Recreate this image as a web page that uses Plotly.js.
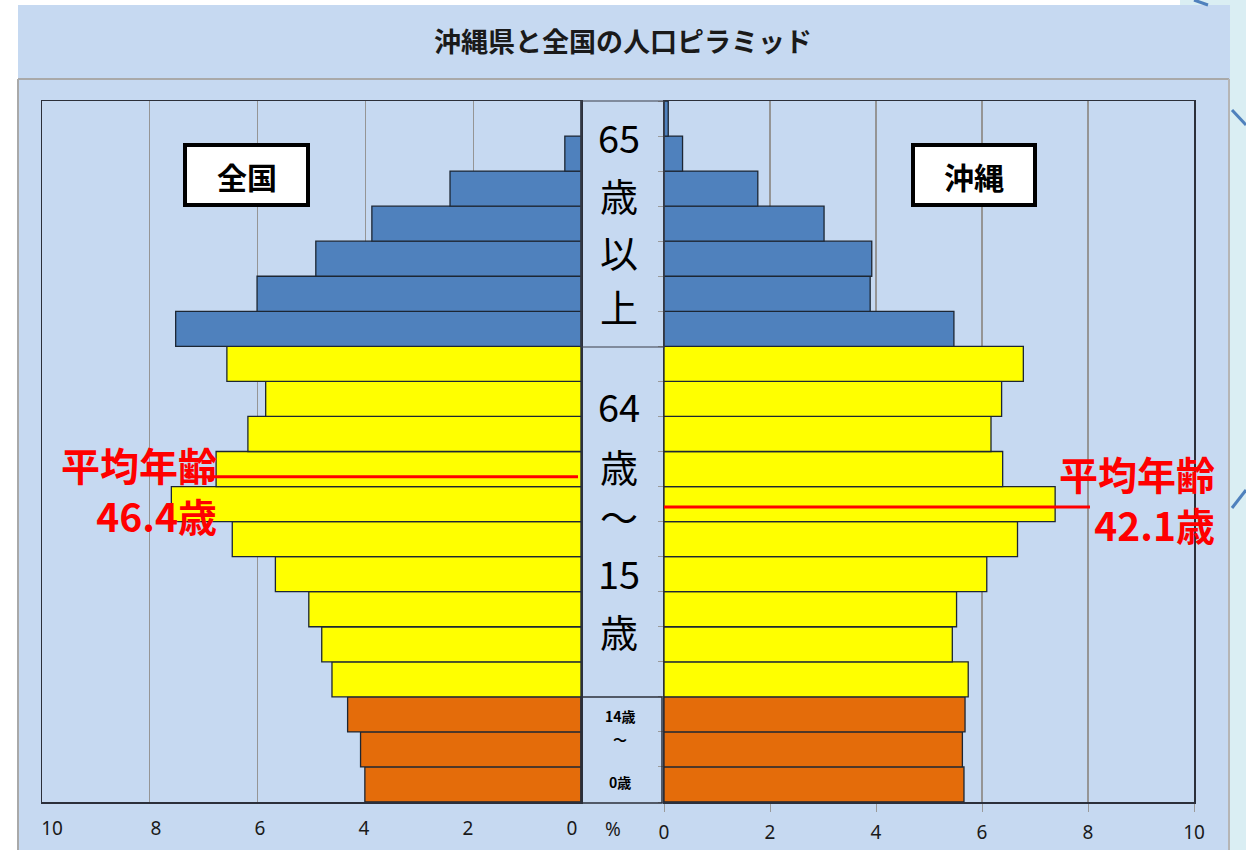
<!DOCTYPE html>
<html>
<head>
<meta charset="utf-8">
<script src="https://cdn.plot.ly/plotly-3.0.1.min.js"></script>
<style>
  html, body { margin: 0; padding: 0; background: #ffffff; }
  #chart { width: 1246px; height: 850px; }
</style>
</head>
<body>
<div id="chart"></div>
<script>
// ---- data (bottom to top: 0-4 ... 95+) ----
const ageGroups = ['0-4','5-9','10-14','15-19','20-24','25-29','30-34','35-39','40-44','45-49',
                   '50-54','55-59','60-64','65-69','70-74','75-79','80-84','85-89','90-94','95+'];
const japanPct   = [4.01, 4.09, 4.33, 4.62, 4.81, 5.05, 5.67, 6.47, 7.60, 6.77,
                    6.18, 5.85, 6.57, 7.52, 6.01, 4.92, 3.88, 2.43, 0.30, 0.00];
const okinawaPct = [5.66, 5.63, 5.68, 5.74, 5.44, 5.52, 6.09, 6.67, 7.38, 6.39,
                    6.17, 6.37, 6.78, 5.47, 3.89, 3.92, 3.02, 1.77, 0.35, 0.08];
const japanAvgAge = 46.4;
const okinawaAvgAge = 42.1;
const xTicks = [0, 2, 4, 6, 8, 10];
const titleText = '沖縄県と全国の人口ピラミッド';
const leftName = '全国';
const rightName = '沖縄';
const avgLabel = '平均年齢';

// ---- styling helpers ----
const W = 1246, H = 850;
const px = x => x / W;
const py = y => 1 - y / H;
const groupColor = i => (i <= 2 ? '#e46c0a' : (i <= 12 ? '#ffff00' : '#4f81bd'));
const colors = ageGroups.map((_, i) => groupColor(i));
const ageToY = a => a / 5 - 0.5;   // category-index position of an age
const JP = '"Noto Sans CJK JP", "Noto Sans", sans-serif';
const NUM = '"Noto Sans", sans-serif';
const bg = '#c6d9f1';

const barCommon = {
  type: 'bar', orientation: 'h', y: ageGroups, width: 1,
  marker: { color: colors, line: { color: '#1c2633', width: 1.3 } },
  hoverinfo: 'skip', showlegend: false
};
const traces = [
  Object.assign({}, barCommon, { x: japanPct, xaxis: 'x', yaxis: 'y', name: leftName }),
  Object.assign({}, barCommon, { x: okinawaPct, xaxis: 'x2', yaxis: 'y2', name: rightName }),
  // empty carrier so the left tick-label axis is drawn
  { type: 'scatter', x: [], y: [], xaxis: 'x3', yaxis: 'y', showlegend: false, hoverinfo: 'skip' }
];

const yDom = [py(802), py(101)];
const tickFont = { family: NUM, size: 19, color: '#1a1a1a' };
const axisX = {
  tickvals: xTicks, ticktext: xTicks.map(String),
  showgrid: true, gridcolor: '#959595', gridwidth: 1.2,
  zeroline: false, showline: true, mirror: true, linecolor: '#2b2f3a', linewidth: 1.5,
  tickfont: tickFont, ticklabelstandoff: 13, fixedrange: true
};
const axisY = {
  type: 'category', categoryorder: 'array', categoryarray: ageGroups,
  range: [-0.5, ageGroups.length - 0.5], domain: yDom,
  showticklabels: false, showgrid: false, zeroline: false,
  showline: true, mirror: true, linecolor: '#2b2f3a', linewidth: 1.5, fixedrange: true
};

const layout = {
  width: W, height: H,
  margin: { l: 0, r: 0, t: 0, b: 0 },
  paper_bgcolor: bg, plot_bgcolor: 'rgba(0,0,0,0)',
  barmode: 'overlay', bargap: 0,
  title: { text: titleText, x: 0.5, xanchor: 'center', y: py(43), yanchor: 'middle',
           xref: 'paper', yref: 'paper',
           font: { family: JP, size: 27, color: '#1a1a1a', weight: 700 } },
  xaxis: Object.assign({}, axisX, { domain: [px(42), px(581)], range: [10, 0], anchor: 'y',
           ticks: '', showticklabels: false }),
  // label-only axis for the left panel (labels sit slightly inside the frame, as in the source)
  xaxis3: { domain: [px(52), px(572)], range: [10, 0], anchor: 'y',
            tickvals: xTicks, ticktext: xTicks.map(String), tickfont: tickFont,
            showgrid: false, zeroline: false, showline: false, ticks: '',
            ticklabelstandoff: 13, fixedrange: true },
  yaxis: Object.assign({}, axisY, { anchor: 'x' }),
  xaxis2: Object.assign({}, axisX, { domain: [px(664), px(1194)], range: [0, 10], anchor: 'y2',
           ticks: 'outside', ticklen: 8, tickcolor: '#9a9a9a', ticklabelstandoff: 5 }),
  yaxis2: Object.assign({}, axisY, { anchor: 'x2', ticks: 'outside', ticklen: 5, tickcolor: '#9a9a9a',
           tickmode: 'array', tickvals: ageGroups.map((_, i) => i - 0.5).concat([ageGroups.length - 0.5]) }),
  shapes: [], annotations: []
};

// page / panel decorations
const S = layout.shapes;
S.push({ type: 'rect', xref: 'paper', yref: 'paper', x0: 0, x1: px(18), y0: 0, y1: 1,
         fillcolor: '#ffffff', line: { width: 0 }, layer: 'below' });
S.push({ type: 'rect', xref: 'paper', yref: 'paper', x0: 0, x1: px(1180), y0: py(5), y1: 1,
         fillcolor: '#ffffff', line: { width: 0 }, layer: 'below' });
S.push({ type: 'rect', xref: 'paper', yref: 'paper', x0: px(1180), x1: 1, y0: py(5), y1: 1,
         fillcolor: '#daeef3', line: { width: 0 }, layer: 'below' });
S.push({ type: 'rect', xref: 'paper', yref: 'paper', x0: px(1230), x1: 1, y0: 0, y1: 1,
         fillcolor: '#daeef3', line: { width: 0 }, layer: 'below' });
S.push({ type: 'line', xref: 'paper', yref: 'paper', x0: px(1232), y0: py(110), x1: px(1246), y1: py(125),
         line: { color: '#4f81bd', width: 3 } });
S.push({ type: 'line', xref: 'paper', yref: 'paper', x0: px(1232), y0: py(508), x1: px(1246), y1: py(490),
         line: { color: '#4f81bd', width: 3 } });
S.push({ type: 'line', xref: 'paper', yref: 'paper', x0: px(1194), y0: py(0), x1: px(1208), y1: py(5),
         line: { color: '#4f81bd', width: 3 } });
// frame of the plot area (gray)
S.push({ type: 'line', xref: 'paper', yref: 'paper', x0: px(18), y0: py(79), x1: px(1229), y1: py(79),
         line: { color: '#a9a9a9', width: 2 } });
S.push({ type: 'line', xref: 'paper', yref: 'paper', x0: px(18), y0: py(79), x1: px(18), y1: 0,
         line: { color: '#a9a9a9', width: 2 } });
S.push({ type: 'line', xref: 'paper', yref: 'paper', x0: px(1229), y0: py(79), x1: px(1229), y1: 0,
         line: { color: '#b5b5b5', width: 2 } });
// middle label boxes
S.push({ type: 'rect', xref: 'paper', yref: 'paper', x0: px(581), x1: px(664), y0: py(347), y1: py(101),
         line: { color: '#3a3f4a', width: 1.2 } });
S.push({ type: 'rect', xref: 'paper', yref: 'paper', x0: px(581), x1: px(662), y0: py(803), y1: py(697),
         line: { color: '#2b2f3a', width: 1.5 } });
// name boxes
S.push({ type: 'rect', xref: 'paper', yref: 'paper', x0: px(185), x1: px(308), y0: py(205), y1: py(145),
         fillcolor: '#ffffff', line: { color: '#000000', width: 4 } });
S.push({ type: 'rect', xref: 'paper', yref: 'paper', x0: px(913), x1: px(1035), y0: py(205), y1: py(145),
         fillcolor: '#ffffff', line: { color: '#000000', width: 4 } });
// average age lines
S.push({ type: 'line', xref: 'paper', yref: 'y', x0: px(186), x1: px(578),
         y0: ageToY(japanAvgAge), y1: ageToY(japanAvgAge), line: { color: '#ff0000', width: 3 } });
S.push({ type: 'line', xref: 'paper', yref: 'y2', x0: px(664), x1: px(1090),
         y0: ageToY(okinawaAvgAge), y1: ageToY(okinawaAvgAge), line: { color: '#ff0000', width: 3 } });

// text
const A = layout.annotations;
const txt = (t, x, y, font, opts) => A.push(Object.assign({
  text: t, xref: 'paper', yref: 'paper', x: px(x), y: py(y), xanchor: 'center', yanchor: 'middle',
  showarrow: false, font: font
}, opts || {}));

const boxFont = { family: JP, size: 30, color: '#000', weight: 700 };
txt(leftName, 247, 176, boxFont);
txt(rightName, 974, 176, boxFont);

const midX = 619;
const bigFont = { family: JP, size: 38, color: '#000' };
[['65', 137], ['歳', 195], ['以', 250], ['上', 305],
 ['64', 405], ['歳', 465], ['〜', 515], ['15', 572], ['歳', 630]].forEach(([t, y]) => txt(t, midX, y, bigFont));
const smallFont = { family: JP, size: 14, color: '#000', weight: 700 };
txt('14歳', 620, 716, smallFont);
txt('〜', 620, 739, smallFont);
txt('0歳', 620, 782, smallFont);
txt('%', 613, 829, { family: NUM, size: 19, color: '#1a1a1a' });

const red = { family: JP, size: 39, color: '#ff0000', weight: 700 };
txt(avgLabel + '<br>' + japanAvgAge.toFixed(1) + '歳', 219, 490, red, { xanchor: 'right', align: 'right' });
txt(avgLabel + '<br>' + okinawaAvgAge.toFixed(1) + '歳', 1217, 498, red, { xanchor: 'right', align: 'right' });

Plotly.newPlot('chart', traces, layout, { staticPlot: true, displayModeBar: false });
</script>
</body>
</html>
